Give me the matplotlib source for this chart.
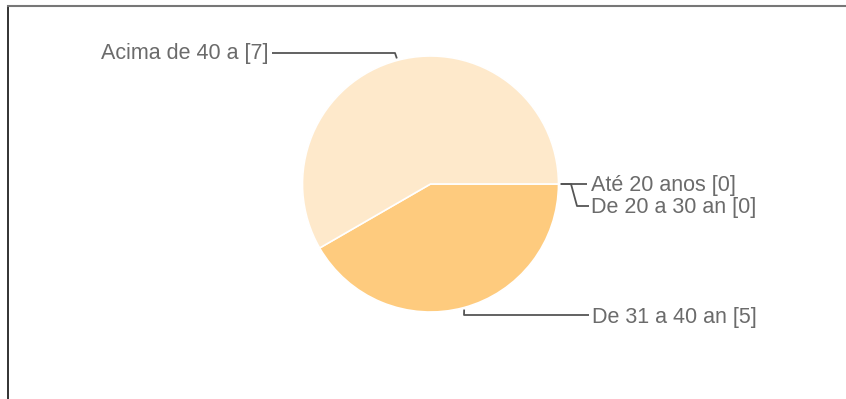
import matplotlib
matplotlib.use('Agg')
import matplotlib.pyplot as plt
import numpy as np

# Age brackets and response counts
labels = ['Até 20 anos', 'De 20 a 30 an', 'De 31 a 40 an', 'Acima de 40 a']
counts = [0, 0, 5, 7]
colors = ['#fde3bd', '#fde3bd', '#fecb7e', '#fee9cb']

W, H = 846, 399
cx, cy, r = 430.5, 184, 128

# label placement: text anchor and leader path after the wedge point, in
# pixels measured from the top-left corner
label_pos = [
    dict(text=(591, 185.5), path=[(587, 184)], ha='left'),
    dict(text=(591, 208), path=[(571, 184), (577, 206), (589, 206)], ha='left'),
    dict(text=(592, 317), path=[(464, 315), (589, 315)], ha='left'),
    dict(text=(268, 54), path=[(395, 53), (272, 53)], ha='right'),
]

fig = plt.figure(figsize=(W / 100, H / 100), dpi=100)
ax = fig.add_axes([0, 0, 1, 1])

wedges, _ = ax.pie(counts, colors=colors, startangle=0, counterclock=False,
                   center=(cx, H - cy), radius=r,
                   wedgeprops=dict(edgecolor='white', linewidth=1.2))
ax.set_xlim(0, W)
ax.set_ylim(0, H)
ax.set_aspect('equal')
ax.axis('off')

for w, lab, n, pos in zip(wedges, labels, counts, label_pos):
    mid = np.deg2rad((w.theta1 + w.theta2) / 2)
    xs = [cx + (r + 2) * np.cos(mid)] + [p[0] for p in pos['path']]
    ys = [(H - cy) + (r + 2) * np.sin(mid)] + [H - p[1] for p in pos['path']]
    ax.plot(xs, ys, color='#555555', lw=1.3, solid_capstyle='butt')
    ax.text(pos['text'][0], H - pos['text'][1], '{} [{}]'.format(lab, n),
            ha=pos['ha'], va='center', fontsize=15.5,
            family='Liberation Sans', color='#6b6b6b')

# outer frame (only top and left edges fall inside the image)
ax.plot([8, 8], [0, H - 6], color='#222222', lw=1.3)
ax.plot([8, W], [H - 6, H - 6], color='#777777', lw=1.5)

fig.savefig('out.png', dpi=100)
